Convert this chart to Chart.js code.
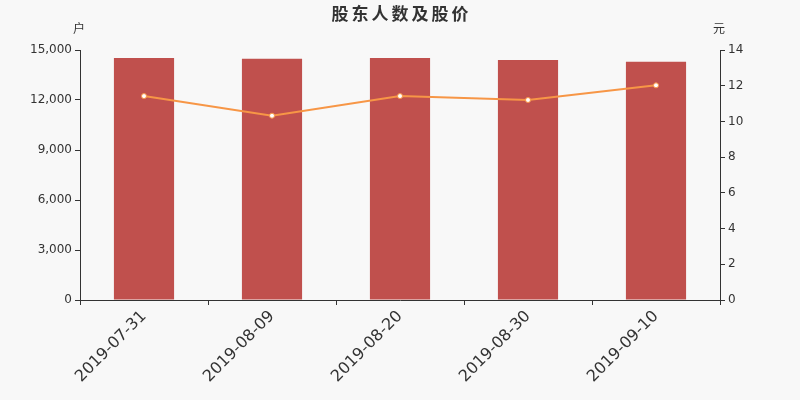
<!DOCTYPE html>
<html><head><meta charset="utf-8">
<script src="https://cdn.jsdelivr.net/npm/chart.js@4/dist/chart.umd.min.js"></script>
<style>html,body{margin:0;padding:0;background:#f8f8f8;}#wrap{width:800px;height:400px;}</style>
</head><body><div id="wrap"><canvas id="c" width="800" height="400"></canvas></div>
<script>
const categories = ['2019-07-31','2019-08-09','2019-08-20','2019-08-30','2019-09-10'];
const holders = [14520, 14480, 14520, 14400, 14300];
const prices = [11.42, 10.32, 11.42, 11.2, 12.02];
const leftTicks = [0,3000,6000,9000,12000,15000];
const rightTicks = [0,2,4,6,8,10,12,14];
const titleText = '股东人数及股价';

const FONT = '"DejaVu Sans", sans-serif';
const deco = {
  id:'deco',
  beforeDraw(chart){
    const c = chart.ctx;
    c.save(); c.fillStyle='#f8f8f8'; c.fillRect(0,0,chart.width,chart.height); c.restore();
  },
  afterDraw(chart){
    const c = chart.ctx;
    c.save();
    c.fillStyle='#333';
    c.textAlign='center'; c.textBaseline='middle';
    c.font='bold 17px "Noto Sans CJK SC", sans-serif';
    const chars = Array.from(titleText);
    const step = 20;
    const start = 400 - step*(chars.length-1)/2;
    chars.forEach((ch,i)=>c.fillText(ch, start+i*step, 14));
    c.font='12px "Noto Sans CJK SC", sans-serif';
    c.fillText('户', 79, 28);
    c.fillText('元', 719, 28);
    c.restore();
  }
};
new Chart(document.getElementById('c'), {
  data:{
    labels:categories,
    datasets:[
      {type:'line', data:prices, yAxisID:'y1', borderColor:'#f79646', borderWidth:2,
       pointBackgroundColor:'#ffffff', pointBorderColor:'#f79646', pointRadius:2.5, pointBorderWidth:1,
       tension:0, order:0},
      {type:'bar', data:holders, yAxisID:'y', backgroundColor:'#c0504d',
       categoryPercentage:0.94, barPercentage:0.5, order:1}
    ]
  },
  options:{
    responsive:false, animation:false, devicePixelRatio:1,
    layout:{padding:{top:50,left:0,right:0,bottom:0}},
    plugins:{legend:{display:false}, tooltip:{enabled:false}},
    scales:{
      x:{
        grid:{offset:true, drawOnChartArea:false, tickLength:5, color:'#333'},
        border:{color:'#333'},
        ticks:{color:'#333', font:{family:FONT, size:16}, maxRotation:45, minRotation:45, padding:2},
        afterFit(s){ s.height = 100; }
      },
      y:{
        position:'left', min:0, max:15000,
        afterBuildTicks(s){ s.ticks = leftTicks.map(v=>({value:v})); },
        grid:{drawOnChartArea:false, tickLength:5, color:'#333'},
        border:{color:'#333'},
        ticks:{color:'#333', font:{family:FONT, size:12}, padding:3,
          callback:v=>v.toLocaleString('en-US')},
        afterFit(s){ s.width = 80; }
      },
      y1:{
        position:'right', min:0, max:14,
        afterBuildTicks(s){ s.ticks = rightTicks.map(v=>({value:v})); },
        grid:{drawOnChartArea:false, tickLength:5, color:'#333'},
        border:{color:'#333'},
        ticks:{color:'#333', font:{family:FONT, size:12}, padding:3},
        afterFit(s){ s.width = 80; }
      }
    }
  },
  plugins:[deco]
});
</script></body></html>
